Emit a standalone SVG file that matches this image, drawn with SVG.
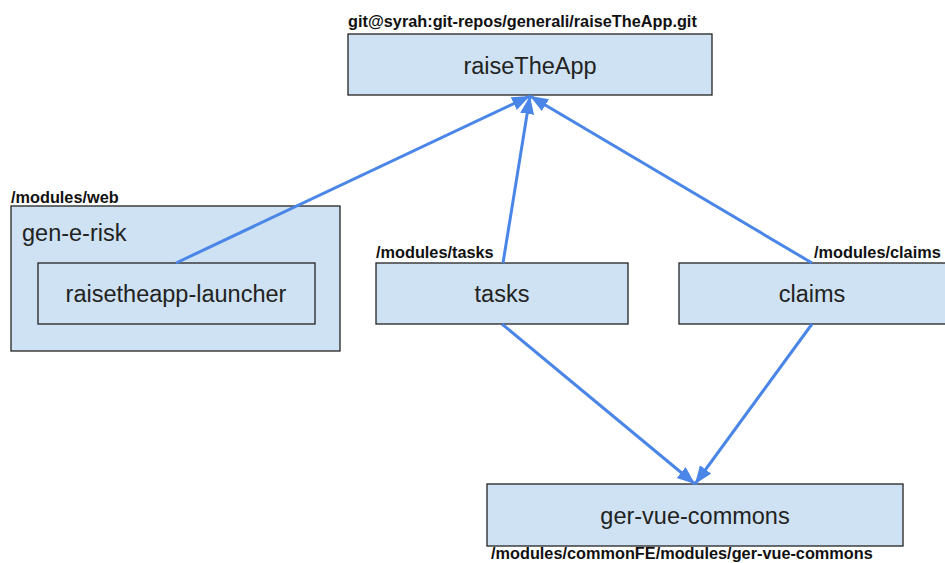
<svg xmlns="http://www.w3.org/2000/svg" width="945" height="563" viewBox="0 0 945 563">
<style>
.box{fill:#cfe2f3;stroke:#222;stroke-width:1.3}
.t{font-family:"Liberation Sans",Arial,sans-serif;font-size:23.5px;fill:#222}
.lbl{font-family:"Liberation Sans",Arial,sans-serif;font-size:16.3px;font-weight:bold;fill:#111}
.c{fill:none;stroke:#4a86e8;stroke-width:3;marker-end:url(#ah)}
</style>
<defs>
<marker id="ah" markerUnits="userSpaceOnUse" markerWidth="20" markerHeight="16" refX="18" refY="7" orient="auto">
<path d="M0,0 L18,7 L0,14 Z" fill="#4a86e8"/>
</marker>
</defs>
<rect width="945" height="563" fill="#fff"/>
<g id="raiseTheApp">
<text class="lbl" x="348" y="27">git@syrah:git-repos/generali/raiseTheApp.git</text>
<rect class="box" x="348" y="34" width="364" height="61"/>
<text class="t" x="530" y="74" text-anchor="middle">raiseTheApp</text>
</g>
<g id="gen-e-risk">
<text class="lbl" x="11" y="203">/modules/web</text>
<rect class="box" x="11" y="206" width="329" height="145"/>
<text class="t" x="22" y="241">gen-e-risk</text>
</g>
<g id="raisetheapp-launcher">
<rect class="box" x="38" y="263" width="277" height="61"/>
<text class="t" x="176" y="302" text-anchor="middle">raisetheapp-launcher</text>
</g>
<g id="tasks">
<text class="lbl" x="376" y="258">/modules/tasks</text>
<rect class="box" x="376" y="263" width="252" height="61"/>
<text class="t" x="502" y="302" text-anchor="middle">tasks</text>
</g>
<g id="claims">
<text class="lbl" x="814" y="258">/modules/claims</text>
<rect class="box" x="679" y="263" width="270" height="61"/>
<text class="t" x="812" y="302" text-anchor="middle">claims</text>
</g>
<g id="ger-vue-commons">
<rect class="box" x="487" y="484" width="416" height="62"/>
<text class="t" x="695" y="524" text-anchor="middle">ger-vue-commons</text>
<text class="lbl" x="491" y="559">/modules/commonFE/modules/ger-vue-commons</text>
</g>
<g id="connectors">
<line class="c" x1="176" y1="263" x2="530" y2="96"/>
<line class="c" x1="503" y1="263" x2="530" y2="96"/>
<line class="c" x1="812" y1="263" x2="530" y2="96"/>
<line class="c" x1="502" y1="324" x2="695" y2="484"/>
<line class="c" x1="812" y1="324" x2="695" y2="484"/>
</g>
</svg>
